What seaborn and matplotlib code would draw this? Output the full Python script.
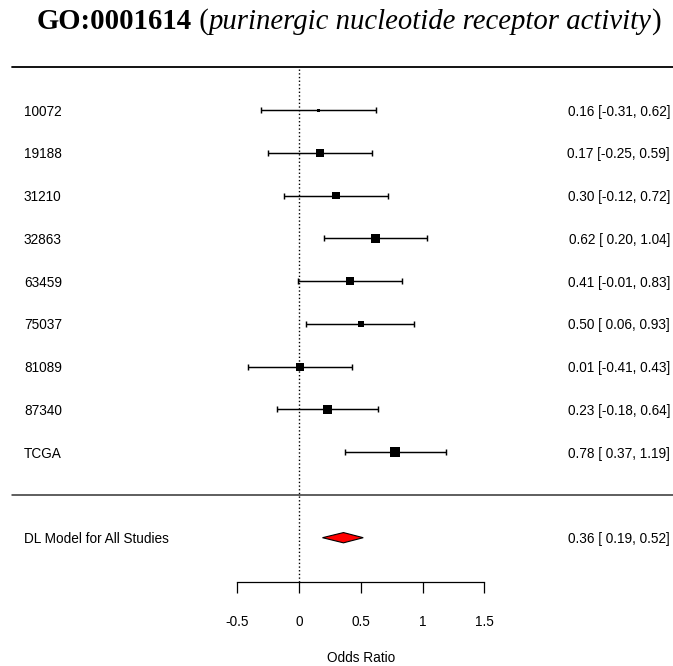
import matplotlib
matplotlib.use("Agg")
import matplotlib.pyplot as plt
import seaborn as sns
import pandas as pd

# Study-level estimates with 95% confidence intervals
studies = ["10072", "19188", "31210", "32863", "63459", "75037", "81089", "87340", "TCGA"]
estimate = [0.16, 0.17, 0.30, 0.62, 0.41, 0.50, 0.01, 0.23, 0.78]
ci_low = [-0.31, -0.25, -0.12, 0.20, -0.01, 0.06, -0.41, -0.18, 0.37]
ci_high = [0.62, 0.59, 0.72, 1.04, 0.83, 0.93, 0.43, 0.64, 1.19]
box_side_px = [3, 8, 7.5, 8.5, 8, 6, 8, 9, 10]

# Pooled random-effects (DerSimonian-Laird) summary
pooled_label = "DL Model for All Studies"
pooled_est, pooled_low, pooled_high = 0.36, 0.19, 0.52

tick_values = [-0.5, 0, 0.5, 1, 1.5]
tick_labels = ["-0.5", "0", "0.5", "1", "1.5"]

sns.set_theme(style="ticks")
plt.rcParams["font.family"] = ["Liberation Sans", "DejaVu Sans"]
plt.rcParams["text.color"] = "black"
plt.rcParams["axes.labelcolor"] = "black"

W, H, DPI = 673, 666, 100
fig = plt.figure(figsize=(W / DPI, H / DPI), dpi=DPI)
ax = fig.add_axes([0, 0, 1, 1])

k = len(studies)
rows = list(range(k, 0, -1))
df = pd.DataFrame({"study": studies, "est": estimate, "lo": ci_low, "hi": ci_high,
                   "row": rows, "s": [(p * 0.72) ** 2 for p in box_side_px]})

ax.set_xlim(-2.421, 3.028)
ax.set_ylim(-4.0, 11.573)
fs = 9.8

# confidence interval whiskers
ax.errorbar(df["est"], df["row"], xerr=[df["est"] - df["lo"], df["hi"] - df["est"]],
            fmt="none", ecolor="black", elinewidth=1.05, capsize=2.3, capthick=1.05, zorder=2)
# study boxes
sns.scatterplot(x=df["est"], y=df["row"], marker="s", s=df["s"], color="black",
                linewidth=0, ax=ax, legend=False, zorder=3)

# pooled diamond
h = 0.12
ax.fill([pooled_low, pooled_est, pooled_high, pooled_est], [-1, -1 + h, -1, -1 - h],
        facecolor="red", edgecolor="black", linewidth=0.8, zorder=3)

# separators and reference line
ax.axhline(k + 1, xmin=12 / W, xmax=1, color="black", linewidth=1.3)
ax.axhline(0, xmin=12 / W, xmax=1, color="#333333", linewidth=1.1)
ax.plot([0, 0], [-2.04, k + 1], linestyle=":", color="black", linewidth=1.0, zorder=1)

# text columns
x_left, x_right = -2.227, 3.004
for r, name, e, lo, hi in zip(rows, studies, estimate, ci_low, ci_high):
    ax.text(x_left, r, name, ha="left", va="center_baseline", fontsize=fs)
    ax.text(x_right, r, f"{e:.2f} [{lo:5.2f}, {hi:.2f}]",
            ha="right", va="center_baseline", fontsize=fs)
ax.text(x_left, -1, pooled_label, ha="left", va="center_baseline", fontsize=fs)
ax.text(x_right, -1, f"{pooled_est:.2f} [{pooled_low:5.2f}, {pooled_high:.2f}]",
        ha="right", va="center_baseline", fontsize=fs)

# x axis
sns.despine(ax=ax, left=True, top=True, right=True)
ax.spines["bottom"].set_position(("data", -2.04))
ax.spines["bottom"].set_bounds(tick_values[0], tick_values[-1])
ax.spines["bottom"].set_linewidth(0.9)
ax.spines["bottom"].set_color("black")
ax.set_yticks([])
ax.set_ylabel("")
ax.set_xticks(tick_values)
ax.set_xticklabels(tick_labels)
ax.tick_params(axis="x", bottom=True, direction="out", length=7.9, width=0.9,
               pad=16, labelsize=fs, colors="black")
ax.set_xlabel("Odds Ratio", fontsize=fs)
ax.xaxis.set_label_coords((0.5 + 2.421) / (2.421 + 3.028), 15 / H)
ax.patch.set_alpha(0)

# title: bold identifier, upright parentheses, italic term name
fig.canvas.draw()
renderer = fig.canvas.get_renderer()
tfs = 20.7
serif = "Liberation Serif"
parts = [("GO:0001614", "bold", "normal"), (" (", "normal", "normal"),
         ("purinergic nucleotide receptor activity", "normal", "italic"), (")", "normal", "normal")]
texts = []
for s, wt, st in parts:
    t = fig.text(0, 1 - 29 / H, s, fontfamily=serif, fontweight=wt, fontstyle=st,
                 fontsize=tfs, ha="left", va="baseline", color="black")
    texts.append(t)
widths = [t.get_window_extent(renderer).width for t in texts]
x0 = (38 + 660) / 2 - sum(widths) / 2
for t, w in zip(texts, widths):
    t.set_x(x0 / W)
    x0 += w

fig.savefig("out.png", dpi=DPI)
